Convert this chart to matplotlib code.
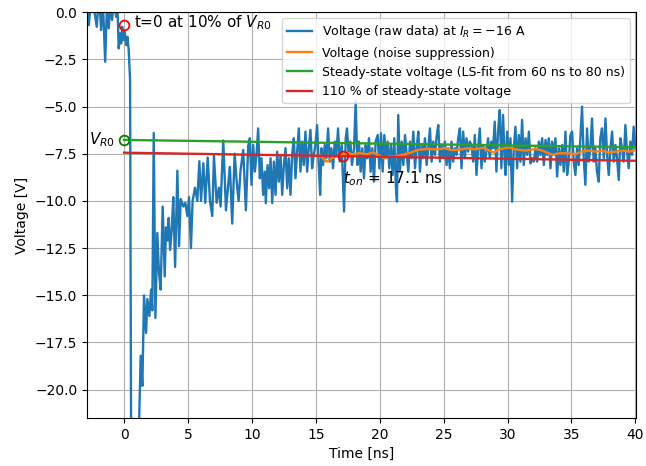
import numpy as np
import matplotlib
matplotlib.use("Agg")
import matplotlib.pyplot as plt

# raw scope data (ns, V)
time_raw = [-3.0, -2.9, -2.76, -2.62, -2.5, -2.35, -2.14, -2.0, -1.9, -1.8, -1.65, -1.48,
            -1.35, -1.2, -1.08, -0.94, -0.8, -0.62, -0.52, -0.42, -0.31, -0.23, -0.15,
            -0.05, 0.05, 0.16, 0.26, 0.36, 0.47, 0.55, 0.7, 0.85, 1.0, 1.1, 1.17,
            1.3, 1.43, 1.56, 1.72, 1.82, 1.98, 2.11, 2.21, 2.32, 2.45, 2.6, 2.73, 2.86,
            3.02, 3.18, 3.28, 3.39, 3.49, 3.6, 3.73, 3.85, 3.99, 4.17, 4.3, 4.43, 4.64,
            4.79, 4.95, 5.08, 5.23, 5.36, 5.55, 5.73, 5.89, 6.02, 6.2, 6.35, 6.54, 6.72,
            6.9, 7.03, 7.24, 7.42, 7.55, 7.76, 7.97, 8.15, 8.28, 8.46, 8.65, 8.8, 8.96,
            9.11, 9.32, 9.53, 9.71,
            9.84, 9.97, 10.10, 10.23, 10.36, 10.49, 10.62, 10.75, 10.88, 11.01, 11.09,
            11.22, 11.35, 11.46, 11.59, 11.72, 11.85, 11.98, 12.11, 12.24, 12.37, 12.50,
            12.63, 12.76, 12.89, 13.02, 13.15, 13.28, 13.41, 13.54, 13.67, 13.80, 13.93,
            14.06, 14.19, 14.32, 14.45, 14.58, 14.71, 14.84, 14.97, 15.10, 15.23, 15.34,
            15.44, 15.57, 15.70, 15.83, 15.96, 16.09, 16.22, 16.35, 16.48, 16.61, 16.74,
            16.87, 17.03, 17.21, 17.34, 17.44, 17.57, 17.70, 17.83, 17.99, 18.12, 18.25,
            18.38, 18.51, 18.64, 18.77, 18.90, 19.03, 19.16, 19.29, 19.42, 19.55, 19.68,
            19.84, 19.97, 20.10, 20.23, 20.36, 20.49, 20.62, 20.75, 20.88, 21.01, 21.14,
            21.27, 21.35, 21.45, 21.58, 21.72, 21.85, 21.98, 22.11, 22.24, 22.37, 22.50,
            22.63, 22.76, 22.89, 23.02, 23.15, 23.28, 23.41, 23.54, 23.67, 23.80, 23.93,
            24.06, 24.19, 24.32, 24.45, 24.58, 24.71, 24.84, 24.97, 25.10, 25.23, 25.36,
            25.49, 25.62, 25.75, 25.88, 26.01, 26.14, 26.27, 26.40, 26.53, 26.66, 26.79,
            26.92, 27.05, 27.18, 27.31, 27.44, 27.57, 27.70, 27.83, 27.96, 28.09, 28.22,
            28.35, 28.48, 28.61, 28.74, 28.87, 29.00, 29.13, 29.26, 29.39, 29.52, 29.65,
            29.78,
            29.84, 29.97, 30.10, 30.23, 30.36, 30.49, 30.62, 30.75, 30.88, 31.01, 31.14,
            31.27, 31.41, 31.54, 31.67, 31.80, 31.93, 32.06, 32.19, 32.32, 32.45, 32.58,
            32.71, 32.84, 32.97, 33.10, 33.23, 33.36, 33.49, 33.62, 33.75, 33.88, 34.01,
            34.14, 34.27, 34.40, 34.53, 34.66, 34.79, 34.92, 35.05, 35.18, 35.31, 35.44,
            35.57, 35.70, 35.83, 35.96, 36.09, 36.22, 36.35, 36.48, 36.61, 36.74, 36.87,
            37.00, 37.13, 37.26, 37.39, 37.53, 37.66, 37.79, 37.92, 38.05, 38.18, 38.31,
            38.44, 38.57, 38.70, 38.83, 38.96, 39.09, 39.22, 39.35, 39.48, 39.61, 39.74,
            39.87, 40.00, 40.13, 40.26]
volt_raw = [0.3, 0.6, -0.69, 0.4, 0.8, 0.2, -0.78, 0.5, 0.3, -0.95, 0.4, -2.63,
            0.2, -0.86, 0.5, -0.42, 0.6, -0.25, 0.3, -1.92, -1.13, -1.66, -0.78,
            -1.48, -1.04, -1.75, -1.31, -2.0, -3.6, -23.0, -26.0, -24.5, -25.5, -23.5, -21.8,
            -18.2, -19.8, -15.0, -17.0, -15.2, -16.1, -14.7, -15.8, -6.4, -16.2, -11.7, -13.8, -14.7,
            -10.3, -14.0, -11.4, -12.1, -10.9, -12.6, -11.5, -9.8, -13.5, -8.4, -12.4, -9.9, -10.3,
            -10.1, -10.8, -9.8, -12.5, -10.0, -9.3, -10.0, -7.9, -10.0, -8.0, -10.1, -7.7, -10.0,
            -10.8, -7.6, -10.1, -9.3, -10.3, -6.8, -10.5, -9.1, -8.2, -11.2, -7.5, -8.9, -10.0,
            -8.4, -7.3, -10.5, -7.1,
            -6.68, -9.15, -7.04, -8.45, -7.56, -6.16, -8.80, -7.74, -9.68, -8.45, -10.12,
            -8.10, -9.33, -7.74, -10.12, -7.92, -9.68, -7.39, -8.98, -7.56, -9.68, -8.10,
            -7.21, -9.33, -7.74, -9.68, -7.56, -6.68, -8.80, -7.39, -6.16, -8.45, -6.86,
            -8.10, -6.33, -8.45, -7.21, -6.24, -8.27, -7.56, -7.04, -5.98, -8.10, -9.68,
            -7.21, -8.10, -7.04, -7.74, -6.16, -7.92, -7.21, -8.27, -6.86, -7.56, -6.16,
            -7.92, -7.04, -10.56, -6.68, -6.16, -7.56, -6.86, -8.10, -7.21, -4.75, -8.10,
            -6.86, -8.45, -7.21, -8.80, -7.04, -7.74, -6.68, -8.45, -7.21, -8.98, -6.86,
            -6.51, -8.27, -6.42, -8.45, -6.51, -7.74, -6.86, -8.27, -7.04, -8.63, -6.68,
            -9.33, -10.04, -5.45, -8.45, -6.86, -8.10, -6.51, -7.56, -8.45, -6.86, -7.74,
            -6.33, -8.27, -7.21, -6.33, -8.45, -7.04, -7.74, -6.68, -8.10, -7.21, -6.16,
            -7.92, -6.86, -7.56, -6.60, -5.98, -7.92, -7.04, -7.74, -6.86, -8.10, -7.21,
            -8.27, -6.86, -7.92, -7.21, -7.56, -6.68, -6.16, -8.27, -6.33, -7.74, -6.68,
            -7.39, -6.86, -7.04, -7.92, -6.51, -8.63, -7.21, -6.16, -8.27, -7.04, -7.92,
            -7.39, -6.68, -7.74, -6.86, -7.21, -5.80, -8.45, -6.33, -5.19, -8.27, -5.45,
            -7.92,
            -8.63, -6.33, -8.10, -6.68, -10.04, -7.21, -6.07, -8.27, -6.51, -7.92, -5.71,
            -8.10, -6.68, -7.56, -6.33, -8.01, -7.74, -7.92, -7.21, -7.92, -6.86, -7.56,
            -6.68, -8.10, -6.77, -7.56, -6.68, -8.27, -6.86, -7.56, -6.68, -8.71, -7.21,
            -8.10, -7.04, -8.45, -6.33, -8.63, -7.92, -6.51, -6.33, -7.92, -8.63, -7.21,
            -8.10, -6.68, -5.01, -7.74, -9.15, -6.16, -7.92, -7.21, -5.63, -7.92, -7.21,
            -8.45, -8.98, -6.68, -6.16, -7.74, -5.63, -7.56, -8.63, -7.21, -6.33, -7.92,
            -7.04, -7.74, -8.89, -6.68, -7.21, -7.92, -5.98, -7.39, -8.27, -6.86, -7.56,
            -6.07, -7.21, -7.04, -7.30]

# filtered trace
time_smooth = [15.31, 15.55, 15.84, 16.05, 16.22, 16.61, 17.08, 17.53, 17.92, 18.44, 18.96,
               19.48, 19.87, 20.36, 20.63, 21.15, 21.5, 22.0, 22.4, 22.97, 23.75, 24.5,
               25.05, 25.6, 26.1, 26.9, 27.4, 28.18, 28.6, 28.95, 29.3, 29.8, 30.13, 30.6,
               31.4, 32.2, 32.7, 33.23, 33.5, 34.0, 34.8, 35.3, 35.8, 36.3, 36.9, 37.4,
               37.9, 38.5, 39.0, 39.5, 40.1]
volt_smooth = [-7.56, -7.75, -7.92, -7.85, -7.74, -7.65, -7.56, -7.47, -7.53, -7.47, -7.53,
               -7.44, -7.56, -7.74, -7.65, -7.65, -7.6, -7.52, -7.45, -7.30, -7.25, -7.27,
               -7.21, -7.30, -7.30, -7.21, -7.27, -7.18, -7.35, -7.44, -7.27, -7.21, -7.16,
               -7.27, -7.34, -7.25, -7.33, -7.48, -7.56, -7.48, -7.48, -7.53, -7.39, -7.33,
               -7.39, -7.35, -7.43, -7.39, -7.33, -7.39, -7.30]

# steady-state fit (end points) and switching time
time_fit = [0.0, 40.3]
volt_fit = [-6.77, -7.16]
v_r0 = -6.77
t_on = 17.1


def main() -> None:
    fig = plt.figure(figsize=(6.46, 4.66), dpi=100)
    ax = fig.add_axes([0.1347, 0.103, 0.8498, 0.871])

    volt_110 = [1.1 * v for v in volt_fit]

    ax.plot(time_raw, volt_raw, color="#1f77b4", lw=1.7,
            label=r"Voltage (raw data) at $I_R = -16$ A")
    ax.plot(time_smooth, volt_smooth, color="#ff7f0e", lw=1.7,
            label="Voltage (noise suppression)")
    ax.plot(time_fit, volt_fit, color="#2ca02c", lw=1.7,
            label="Steady-state voltage (LS-fit from 60 ns to 80 ns)")
    ax.plot(time_fit, volt_110, color="#d62728", lw=1.7,
            label="110 % of steady-state voltage")

    # markers
    ax.plot(0, 0.1 * v_r0, "o", mfc="none", mec="red", ms=7, mew=1.3)
    ax.plot(0, v_r0, "o", mfc="none", mec="green", ms=7, mew=1.3)
    v_on = np.interp(t_on, time_fit, volt_110)
    ax.plot(t_on, v_on, "o", mfc="none", mec="red", ms=7, mew=1.3)

    ax.text(0.75, 0.1 * v_r0 + 0.1, r"t=0 at 10% of $V_{R0}$", fontsize=11, va="center")
    ax.text(-0.75, v_r0, r"$V_{R0}$", fontsize=11, va="center", ha="right")
    ax.text(t_on, -9.05, r"$t_{on}$ = %.1f ns" % t_on, fontsize=11, va="baseline")

    ax.set_xlim(-2.9, 40.05)
    ax.set_ylim(-21.5, 0)
    ax.set_xticks(np.arange(0, 41, 5))
    ax.set_yticks(np.arange(-20, 0.1, 2.5))
    ax.grid(True, color="#b0b0b0", lw=0.8)
    ax.set_xlabel("Time [ns]")
    ax.set_ylabel("Voltage [V]")
    ax.legend(loc="upper right", fontsize=9)

    fig.savefig("out.png", dpi=100)


if __name__ == "__main__":
    main()
